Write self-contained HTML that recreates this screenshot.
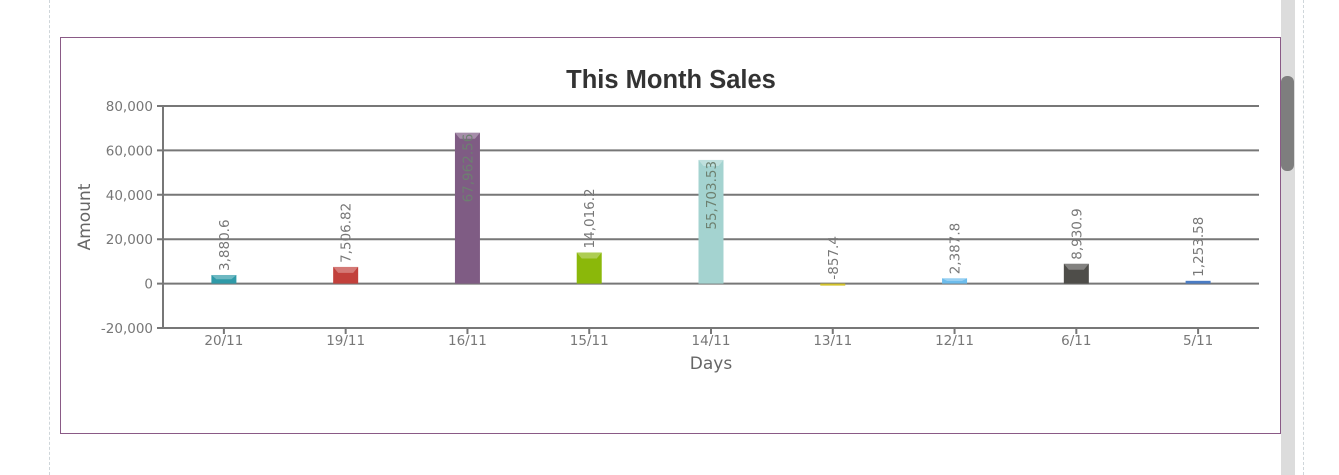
<!DOCTYPE html>
<html><head><meta charset="utf-8"><style>
html,body{margin:0;padding:0;background:#fff;width:1339px;height:475px;overflow:hidden;position:relative}
.dash{position:absolute;top:0;height:475px;border-left:1px dashed #cfd6da}
#frame{position:absolute;left:60px;top:37px;width:1219px;height:395px;border:1px solid #8a5a86}
#sb{position:absolute;left:1281px;top:0;width:14px;height:475px;background:#dcdcdc}
#thumb{position:absolute;left:1281px;top:76px;width:13px;height:95px;background:#7e7e7e;border-radius:6px}
svg{position:absolute;left:0;top:0}
</style></head><body>
<div class="dash" style="left:49px"></div>
<div class="dash" style="left:1303px"></div>
<div id="frame"></div>
<div id="sb"></div>
<div id="thumb"></div>
<svg id="c" width="1339" height="475"
 font-family="DejaVu Sans, Liberation Sans, sans-serif"></svg>
<script>
const categories=["20/11","19/11","16/11","15/11","14/11","13/11","12/11","6/11","5/11"];
const values=[3880.6,7506.82,67962.56,14016.2,55703.53,-857.4,2387.8,8930.9,1253.58];
const labels=["3,880.6","7,506.82","67,962.56","14,016.2","55,703.53","-857.4","2,387.8","8,930.9","1,253.58"];
const colors=["#2f9aa8","#c2403b","#7f5c84","#8bb80a","#a4d3d0","#d3c22a","#6cbcec","#4e4d49","#4a7cc4"];
const yTicks=[-20000,0,20000,40000,60000,80000];
const yTickLabels=["-20,000","0","20,000","40,000","60,000","80,000"];
const NS="http://www.w3.org/2000/svg",svg=document.getElementById('c');
const X0=163,X1=1259,Y0=106,Y1=328,ymin=-20000,ymax=80000;
const y=v=>Y1-(v-ymin)/(ymax-ymin)*(Y1-Y0);
const bw=(X1-X0)/categories.length;
const x=i=>X0+bw*(i+0.5);
function el(t,a,txt){const e=document.createElementNS(NS,t);for(const k in a)e.setAttribute(k,a[k]);if(txt!=null)e.textContent=txt;svg.appendChild(e);return e;}
let e=el('text',{x:671,y:88,'text-anchor':'middle','font-family':'Liberation Sans, sans-serif','font-size':25.5,'font-weight':'bold',fill:'#333'},'This Month Sales');

yTicks.forEach((t,i)=>{
 const g=el('line',{x1:X0-6,x2:X1,y1:y(t),y2:y(t),stroke:'#777','stroke-width':2});
 
 const l=el('text',{x:153,y:y(t)+5,'text-anchor':'end','font-size':13.5,fill:'#777'},yTickLabels[i]);
 
});
e=el('line',{x1:X0,x2:X0,y1:Y0,y2:Y1,stroke:'#777','stroke-width':2});

e=el('text',{x:0,y:0,transform:'translate(90,217) rotate(-90)','text-anchor':'middle','font-size':17,fill:'#666'},'Amount');

e=el('text',{x:711,y:369,'text-anchor':'middle','font-size':17,fill:'#666'},'Days');

categories.forEach((c,i)=>{
 const cx=x(i);
 const t=el('line',{x1:cx,x2:cx,y1:Y1,y2:Y1+6,stroke:'#777','stroke-width':2});
 
 const l=el('text',{x:cx,y:345,'text-anchor':'middle','font-size':13.5,fill:'#777'},c);
 
 const v=values[i],top=Math.min(y(v),y(0)),h=Math.max(Math.abs(y(v)-y(0)),2);
 const b=el('rect',{x:cx-12.5,y:top,width:25,height:h,fill:colors[i]});
 
 if(h>4){const s=el('path',{d:`M${cx-12.5} ${top}h25l-5 ${Math.min(6,h/2)}h-15z`,fill:'#fff','fill-opacity':0.3});
 }
 const len=labels[i].length*8.3;
 let ly=y(Math.max(v,0))-4,inside=false;
 if(ly-len<Y0-10){ly=top+len-5;inside=true;}
 const lb=el('text',{x:0,y:0,transform:`translate(${cx+5},${ly}) rotate(-90)`,'font-size':13.5,fill:inside?'#6d8070':'#777'},labels[i]);
 
});
</script>
</body></html>
